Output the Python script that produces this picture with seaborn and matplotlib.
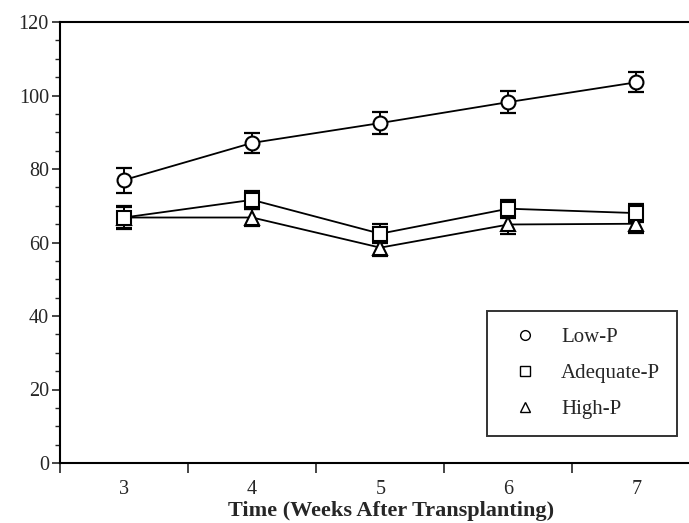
import matplotlib
matplotlib.use("Agg")
import matplotlib.pyplot as plt
import seaborn as sns
import pandas as pd
from matplotlib.lines import Line2D
from matplotlib.ticker import MultipleLocator, FixedLocator, NullFormatter

weeks = [3, 4, 5, 6, 7]
series_names = ["Low-P", "Adequate-P", "High-P"]
low_p = [77.0, 87.1, 92.5, 98.2, 103.6]
low_p_err = [3.4, 2.8, 2.9, 2.9, 2.7]
adequate_p = [66.8, 71.6, 62.4, 69.2, 68.0]
adequate_p_err = [3.0, 2.5, 2.5, 2.5, 2.5]
high_p = [66.8, 66.8, 58.6, 64.9, 65.1]
high_p_err = [2.9, 2.2, 2.2, 2.5, 2.5]

values = [low_p, adequate_p, high_p]
errors = [low_p_err, adequate_p_err, high_p_err]
markers = {"Low-P": "o", "Adequate-P": "s", "High-P": "^"}
msize = {"Low-P": 10, "Adequate-P": 9.5, "High-P": 10.5}

rows = []
for name, vals, errs in zip(series_names, values, errors):
    for w, v, e in zip(weeks, vals, errs):
        rows.append({"week": w, "value": v, "err": e, "series": name})
df = pd.DataFrame(rows)

sns.set_style("ticks")
plt.rcParams["font.family"] = ["Liberation Serif", "DejaVu Serif"]

fig = plt.figure(figsize=(6.89, 5.23), dpi=100)
ax = fig.add_axes([60 / 689, 60 / 523, 629 / 689, 441 / 523])

# lines
for name in series_names[::-1]:
    sub = df[df.series == name]
    sns.lineplot(data=sub, x="week", y="value", ax=ax, color="black",
                 linewidth=1.3, legend=False, zorder=2)
# error bars
for name in series_names[::-1]:
    sub = df[df.series == name]
    ax.errorbar(sub.week, sub.value, yerr=sub.err, fmt="none", ecolor="black",
                elinewidth=1.4, capsize=5.5, capthick=1.6, zorder=3)
# markers
for name in series_names[::-1]:
    sub = df[df.series == name]
    ax.plot(sub.week, sub.value, linestyle="none", marker=markers[name],
            markersize=msize[name], markerfacecolor="white",
            markeredgecolor="black", markeredgewidth=1.5, zorder=4)

ax.set_xlim(2.5, 7.41)
ax.set_ylim(0, 120)

ax.xaxis.set_major_locator(FixedLocator([2.5, 3.5, 4.5, 5.5, 6.5]))
ax.xaxis.set_major_formatter(NullFormatter())
ax.xaxis.set_minor_locator(FixedLocator(weeks))
ax.set_xticks(weeks, [str(w) for w in weeks], minor=True)
ax.tick_params(axis="x", which="major", length=7, width=1.2, direction="out")
ax.tick_params(axis="x", which="minor", length=0, pad=12, labelsize=14.5)

ax.yaxis.set_major_locator(MultipleLocator(20))
ax.yaxis.set_minor_locator(MultipleLocator(5))
ax.tick_params(axis="y", which="major", length=6, width=1.2, direction="out",
               labelsize=14.5, pad=2)
ax.tick_params(axis="y", which="minor", length=3.5, width=1.0, direction="out")

for s in ["left", "bottom", "top"]:
    ax.spines[s].set_linewidth(1.5)
    ax.spines[s].set_color("black")
ax.spines["right"].set_visible(False)

ax.set_xlabel("Time (Weeks After Transplanting)", fontsize=16,
              fontweight="bold")
ax.xaxis.set_label_coords(0.526, -0.121, transform=ax.transAxes)
ax.xaxis.label.set_verticalalignment("baseline")
ax.set_ylabel("")

handles = [Line2D([], [], linestyle="none", marker=markers[n], markersize=7,
                  markerfacecolor="white", markeredgecolor="black",
                  markeredgewidth=1.0) for n in series_names]
leg = ax.legend(handles, series_names, loc="lower right",
                bbox_to_anchor=(0.981, 0.061), frameon=True, fancybox=False,
                edgecolor="black", fontsize=15, labelspacing=0.8,
                borderpad=0.8, handlelength=2.0, handletextpad=0.75,
                borderaxespad=0)
leg.get_frame().set_linewidth(1.4)

fig.savefig("out.png", dpi=100)
